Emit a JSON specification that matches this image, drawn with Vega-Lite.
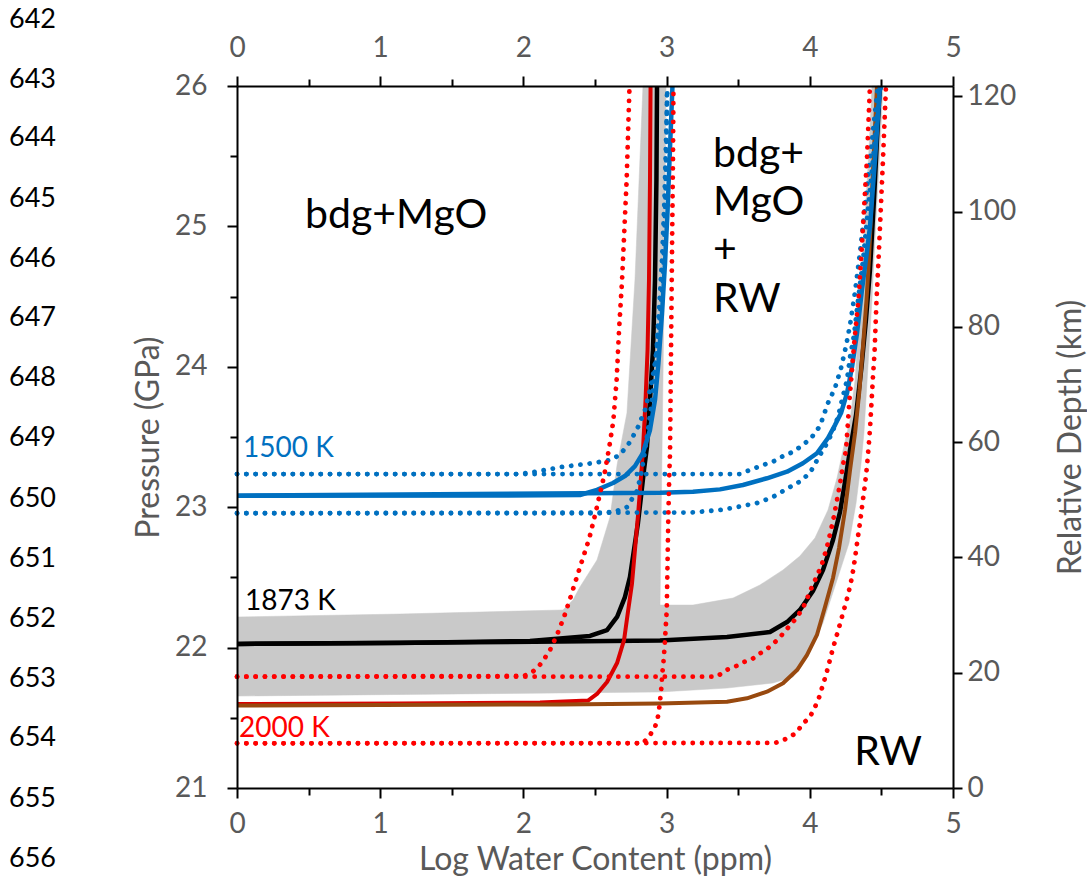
{
  "$schema": "https://vega.github.io/schema/vega-lite/v6.json",
  "width": 716,
  "height": 702,
  "autosize": {"type": "none"},
  "padding": {"left": 237, "top": 86, "right": 134, "bottom": 100},
  "background": "white",
  "config": {"view": {"stroke": null}, "font": "Lato"},
  "datasets": {
    "curves": [
      {"c":"kL","x":0,"p":22.026},{"c":"kL","x":1.138,"p":22.033},{"c":"kL","x":2.046,"p":22.047},{"c":"kL","x":2.465,"p":22.083},{"c":"kL","x":2.584,"p":22.125},{"c":"kL","x":2.654,"p":22.218},{"c":"kL","x":2.709,"p":22.36},{"c":"kL","x":2.744,"p":22.503},{"c":"kL","x":2.772,"p":22.695},{"c":"kL","x":2.8,"p":22.887},{"c":"kL","x":2.821,"p":23.073},{"c":"kL","x":2.842,"p":23.265},{"c":"kL","x":2.863,"p":23.429},{"c":"kL","x":2.884,"p":23.764},{"c":"kL","x":2.905,"p":24.12},{"c":"kL","x":2.919,"p":24.618},{"c":"kL","x":2.929,"p":25.33},{"c":"kL","x":2.933,"p":26.0},
      {"c":"kR","x":0,"p":22.026},{"c":"kR","x":2.256,"p":22.043},{"c":"kR","x":2.954,"p":22.051},{"c":"kR","x":3.422,"p":22.075},{"c":"kR","x":3.722,"p":22.111},{"c":"kR","x":3.841,"p":22.182},{"c":"kR","x":3.931,"p":22.268},{"c":"kR","x":4.022,"p":22.403},{"c":"kR","x":4.092,"p":22.553},{"c":"kR","x":4.162,"p":22.766},{"c":"kR","x":4.211,"p":22.966},{"c":"kR","x":4.246,"p":23.18},{"c":"kR","x":4.281,"p":23.407},{"c":"kR","x":4.323,"p":23.657},{"c":"kR","x":4.361,"p":23.999},{"c":"kR","x":4.392,"p":24.333},{"c":"kR","x":4.42,"p":24.689},{"c":"kR","x":4.448,"p":25.188},{"c":"kR","x":4.469,"p":25.615},{"c":"kR","x":4.49,"p":26.0},
      {"c":"rL","x":0,"p":21.598},{"c":"rL","x":1.138,"p":21.602},{"c":"rL","x":2.116,"p":21.609},{"c":"rL","x":2.451,"p":21.623},{"c":"rL","x":2.514,"p":21.67},{"c":"rL","x":2.584,"p":21.755},{"c":"rL","x":2.654,"p":21.89},{"c":"rL","x":2.703,"p":22.054},{"c":"rL","x":2.73,"p":22.254},{"c":"rL","x":2.758,"p":22.453},{"c":"rL","x":2.779,"p":22.695},{"c":"rL","x":2.8,"p":22.937},{"c":"rL","x":2.818,"p":23.172},{"c":"rL","x":2.835,"p":23.407},{"c":"rL","x":2.853,"p":23.764},{"c":"rL","x":2.867,"p":24.12},{"c":"rL","x":2.877,"p":24.618},{"c":"rL","x":2.884,"p":25.33},{"c":"rL","x":2.888,"p":26.0},
      {"c":"br","x":0,"p":21.588},{"c":"br","x":2.256,"p":21.595},{"c":"br","x":2.954,"p":21.602},{"c":"br","x":3.422,"p":21.615},{"c":"br","x":3.561,"p":21.639},{"c":"br","x":3.701,"p":21.686},{"c":"br","x":3.813,"p":21.746},{"c":"br","x":3.911,"p":21.84},{"c":"br","x":3.98,"p":21.947},{"c":"br","x":4.05,"p":22.09},{"c":"br","x":4.106,"p":22.289},{"c":"br","x":4.162,"p":22.496},{"c":"br","x":4.204,"p":22.709},{"c":"br","x":4.246,"p":22.98},{"c":"br","x":4.281,"p":23.265},{"c":"br","x":4.316,"p":23.528},{"c":"br","x":4.347,"p":23.835},{"c":"br","x":4.372,"p":24.155},{"c":"br","x":4.396,"p":24.476},{"c":"br","x":4.413,"p":24.761},{"c":"br","x":4.434,"p":25.238},{"c":"br","x":4.469,"p":26.0},
      {"c":"bsL","x":0,"p":23.082},{"c":"bsL","x":1.837,"p":23.083},{"c":"bsL","x":2.395,"p":23.087},{"c":"bsL","x":2.514,"p":23.123},{"c":"bsL","x":2.626,"p":23.172},{"c":"bsL","x":2.709,"p":23.222},{"c":"bsL","x":2.779,"p":23.293},{"c":"bsL","x":2.835,"p":23.386},{"c":"bsL","x":2.884,"p":23.55},{"c":"bsL","x":2.919,"p":23.764},{"c":"bsL","x":2.943,"p":24.027},{"c":"bsL","x":2.968,"p":24.383},{"c":"bsL","x":2.989,"p":24.739},{"c":"bsL","x":3.006,"p":25.095},{"c":"bsL","x":3.024,"p":25.565},{"c":"bsL","x":3.041,"p":26.0},
      {"c":"bsR","x":0,"p":23.082},{"c":"bsR","x":2.954,"p":23.103},{"c":"bsR","x":3.184,"p":23.11},{"c":"bsR","x":3.373,"p":23.127},{"c":"bsR","x":3.533,"p":23.158},{"c":"bsR","x":3.701,"p":23.206},{"c":"bsR","x":3.841,"p":23.253},{"c":"bsR","x":3.952,"p":23.313},{"c":"bsR","x":4.05,"p":23.384},{"c":"bsR","x":4.127,"p":23.493},{"c":"bsR","x":4.176,"p":23.585},{"c":"bsR","x":4.218,"p":23.671},{"c":"bsR","x":4.26,"p":23.813},{"c":"bsR","x":4.295,"p":23.999},{"c":"bsR","x":4.33,"p":24.241},{"c":"bsR","x":4.364,"p":24.547},{"c":"bsR","x":4.396,"p":24.796},{"c":"bsR","x":4.42,"p":24.996},{"c":"bsR","x":4.455,"p":25.473},{"c":"bsR","x":4.49,"p":26.0},
      {"c":"buL","x":0,"p":23.236},{"c":"buL","x":1.953,"p":23.236},{"c":"buL","x":2.046,"p":23.246},{"c":"buL","x":2.276,"p":23.288},{"c":"buL","x":2.479,"p":23.313},{"c":"buL","x":2.605,"p":23.336},{"c":"buL","x":2.674,"p":23.372},{"c":"buL","x":2.744,"p":23.464},{"c":"buL","x":2.8,"p":23.571},{"c":"buL","x":2.849,"p":23.692},{"c":"buL","x":2.884,"p":23.835},{"c":"buL","x":2.912,"p":23.977},{"c":"buL","x":2.933,"p":24.141},{"c":"buL","x":2.954,"p":24.383},{"c":"buL","x":2.975,"p":24.618},{"c":"buL","x":2.989,"p":25.095},{"c":"buL","x":2.999,"p":25.565},{"c":"buL","x":3.003,"p":26.0},
      {"c":"buR","x":0,"p":23.236},{"c":"buR","x":3.512,"p":23.236},{"c":"buR","x":3.582,"p":23.265},{"c":"buR","x":3.673,"p":23.301},{"c":"buR","x":3.743,"p":23.324},{"c":"buR","x":3.806,"p":23.36},{"c":"buR","x":3.862,"p":23.384},{"c":"buR","x":3.918,"p":23.419},{"c":"buR","x":3.966,"p":23.455},{"c":"buR","x":4.015,"p":23.5},{"c":"buR","x":4.071,"p":23.578},{"c":"buR","x":4.127,"p":23.742},{"c":"buR","x":4.176,"p":23.849},{"c":"buR","x":4.218,"p":23.991},{"c":"buR","x":4.253,"p":24.148},{"c":"buR","x":4.281,"p":24.298},{"c":"buR","x":4.316,"p":24.533},{"c":"buR","x":4.351,"p":24.818},{"c":"buR","x":4.385,"p":25.131},{"c":"buR","x":4.42,"p":25.473},{"c":"buR","x":4.448,"p":25.744},{"c":"buR","x":4.476,"p":26.0},
      {"c":"bdL","x":0,"p":22.957},{"c":"bdL","x":2.535,"p":22.957},{"c":"bdL","x":2.64,"p":22.969},{"c":"bdL","x":2.723,"p":23.001},{"c":"bdL","x":2.793,"p":23.115},{"c":"bdL","x":2.821,"p":23.229},{"c":"bdL","x":2.842,"p":23.358},{"c":"bdL","x":2.87,"p":23.55},{"c":"bdL","x":2.898,"p":23.764},{"c":"bdL","x":2.926,"p":24.048},{"c":"bdL","x":2.947,"p":24.405},{"c":"bdL","x":2.968,"p":24.761},{"c":"bdL","x":2.985,"p":25.188},{"c":"bdL","x":2.996,"p":25.615},{"c":"bdL","x":3.006,"p":26.0},
      {"c":"bdR","x":0,"p":22.957},{"c":"bdR","x":3.163,"p":22.962},{"c":"bdR","x":3.373,"p":22.98},{"c":"bdR","x":3.492,"p":23.001},{"c":"bdR","x":3.631,"p":23.03},{"c":"bdR","x":3.743,"p":23.073},{"c":"bdR","x":3.855,"p":23.14},{"c":"bdR","x":3.931,"p":23.183},{"c":"bdR","x":4.001,"p":23.244},{"c":"bdR","x":4.071,"p":23.372},{"c":"bdR","x":4.113,"p":23.443},{"c":"bdR","x":4.155,"p":23.528},{"c":"bdR","x":4.197,"p":23.642},{"c":"bdR","x":4.225,"p":23.764},{"c":"bdR","x":4.26,"p":23.906},{"c":"bdR","x":4.281,"p":24.07},{"c":"bdR","x":4.309,"p":24.226},{"c":"bdR","x":4.337,"p":24.476},{"c":"bdR","x":4.372,"p":24.761},{"c":"bdR","x":4.406,"p":25.117},{"c":"bdR","x":4.441,"p":25.473},{"c":"bdR","x":4.469,"p":25.758},{"c":"bdR","x":4.497,"p":26.0},
      {"c":"ruL","x":0,"p":21.793},{"c":"ruL","x":2.004,"p":21.798},{"c":"ruL","x":2.065,"p":21.828},{"c":"ruL","x":2.111,"p":21.871},{"c":"ruL","x":2.151,"p":21.928},{"c":"ruL","x":2.186,"p":21.983},{"c":"ruL","x":2.239,"p":22.102},{"c":"ruL","x":2.286,"p":22.225},{"c":"ruL","x":2.325,"p":22.346},{"c":"ruL","x":2.365,"p":22.476},{"c":"ruL","x":2.402,"p":22.595},{"c":"ruL","x":2.46,"p":22.778},{"c":"ruL","x":2.507,"p":22.973},{"c":"ruL","x":2.535,"p":23.099},{"c":"ruL","x":2.565,"p":23.229},{"c":"ruL","x":2.6,"p":23.431},{"c":"ruL","x":2.628,"p":23.614},{"c":"ruL","x":2.651,"p":23.906},{"c":"ruL","x":2.668,"p":24.262},{"c":"ruL","x":2.689,"p":24.618},{"c":"ruL","x":2.721,"p":25.33},{"c":"ruL","x":2.741,"p":26.0},
      {"c":"ruR","x":0,"p":21.793},{"c":"ruR","x":3.352,"p":21.793},{"c":"ruR","x":3.415,"p":21.84},{"c":"ruR","x":3.478,"p":21.864},{"c":"ruR","x":3.533,"p":21.895},{"c":"ruR","x":3.596,"p":21.917},{"c":"ruR","x":3.645,"p":21.954},{"c":"ruR","x":3.701,"p":21.99},{"c":"ruR","x":3.743,"p":22.026},{"c":"ruR","x":3.785,"p":22.066},{"c":"ruR","x":3.834,"p":22.125},{"c":"ruR","x":3.883,"p":22.182},{"c":"ruR","x":3.925,"p":22.239},{"c":"ruR","x":3.966,"p":22.311},{"c":"ruR","x":4.008,"p":22.417},{"c":"ruR","x":4.05,"p":22.51},{"c":"ruR","x":4.085,"p":22.595},{"c":"ruR","x":4.12,"p":22.717},{"c":"ruR","x":4.148,"p":22.838},{"c":"ruR","x":4.169,"p":22.937},{"c":"ruR","x":4.19,"p":23.051},{"c":"ruR","x":4.211,"p":23.165},{"c":"ruR","x":4.232,"p":23.301},{"c":"ruR","x":4.253,"p":23.407},{"c":"ruR","x":4.277,"p":23.764},{"c":"ruR","x":4.312,"p":24.191},{"c":"ruR","x":4.34,"p":24.476},{"c":"ruR","x":4.358,"p":24.761},{"c":"ruR","x":4.378,"p":25.117},{"c":"ruR","x":4.399,"p":25.473},{"c":"ruR","x":4.42,"p":26.0},
      {"c":"rlL","x":0,"p":21.318},{"c":"rlL","x":2.835,"p":21.318},{"c":"rlL","x":2.884,"p":21.377},{"c":"rlL","x":2.919,"p":21.434},{"c":"rlL","x":2.938,"p":21.499},{"c":"rlL","x":2.947,"p":21.556},{"c":"rlL","x":2.954,"p":21.62},{"c":"rlL","x":2.961,"p":21.684},{"c":"rlL","x":2.966,"p":21.755},{"c":"rlL","x":2.97,"p":21.819},{"c":"rlL","x":2.977,"p":21.883},{"c":"rlL","x":2.982,"p":21.947},{"c":"rlL","x":2.989,"p":22.054},{"c":"rlL","x":2.994,"p":22.147},{"c":"rlL","x":3.001,"p":22.268},{"c":"rlL","x":3.012,"p":22.93},{"c":"rlL","x":3.019,"p":23.244},{"c":"rlL","x":3.024,"p":23.386},{"c":"rlL","x":3.031,"p":24.12},{"c":"rlL","x":3.038,"p":24.832},{"c":"rlL","x":3.045,"p":25.544},{"c":"rlL","x":3.048,"p":26.0},
      {"c":"rlR","x":0,"p":21.318},{"c":"rlR","x":3.757,"p":21.321},{"c":"rlR","x":3.792,"p":21.331},{"c":"rlR","x":3.862,"p":21.363},{"c":"rlR","x":3.911,"p":21.399},{"c":"rlR","x":3.946,"p":21.452},{"c":"rlR","x":4.001,"p":21.506},{"c":"rlR","x":4.057,"p":21.62},{"c":"rlR","x":4.113,"p":21.805},{"c":"rlR","x":4.162,"p":21.997},{"c":"rlR","x":4.197,"p":22.118},{"c":"rlR","x":4.232,"p":22.246},{"c":"rlR","x":4.267,"p":22.375},{"c":"rlR","x":4.295,"p":22.503},{"c":"rlR","x":4.316,"p":22.638},{"c":"rlR","x":4.333,"p":22.766},{"c":"rlR","x":4.351,"p":22.895},{"c":"rlR","x":4.368,"p":23.03},{"c":"rlR","x":4.385,"p":23.158},{"c":"rlR","x":4.399,"p":23.286},{"c":"rlR","x":4.41,"p":23.422},{"c":"rlR","x":4.42,"p":23.55},{"c":"rlR","x":4.441,"p":23.927},{"c":"rlR","x":4.452,"p":24.098},{"c":"rlR","x":4.466,"p":24.476},{"c":"rlR","x":4.48,"p":24.761},{"c":"rlR","x":4.511,"p":25.473},{"c":"rlR","x":4.532,"p":26.0}
    ],
    "band": [
      {"i":1,"x":0,"p":22.218},{"i":2,"x":1.138,"p":22.239},{"i":3,"x":2.276,"p":22.268},{"i":4,"x":2.346,"p":22.339},{"i":5,"x":2.395,"p":22.432},{"i":6,"x":2.514,"p":22.624},{"i":7,"x":2.605,"p":22.93},{"i":8,"x":2.654,"p":23.301},{"i":9,"x":2.723,"p":23.671},{"i":10,"x":2.779,"p":24.618},{"i":11,"x":2.835,"p":26.0},{"i":12,"x":2.996,"p":26.0},{"i":13,"x":2.982,"p":24.476},{"i":14,"x":2.968,"p":23.407},{"i":15,"x":2.954,"p":22.303},{"i":16,"x":3.184,"p":22.303},{"i":17,"x":3.464,"p":22.353},{"i":18,"x":3.652,"p":22.446},{"i":19,"x":3.813,"p":22.553},{"i":20,"x":3.931,"p":22.652},{"i":21,"x":4.036,"p":22.781},{"i":22,"x":4.127,"p":22.98},{"i":23,"x":4.19,"p":23.208},{"i":24,"x":4.232,"p":23.407},{"i":25,"x":4.281,"p":23.621},{"i":26,"x":4.316,"p":23.906},{"i":27,"x":4.351,"p":24.476},{"i":28,"x":4.385,"p":25.046},{"i":29,"x":4.413,"p":25.544},{"i":30,"x":4.434,"p":26.0},{"i":31,"x":4.511,"p":26.0},{"i":32,"x":4.49,"p":25.544},{"i":33,"x":4.462,"p":25.046},{"i":34,"x":4.434,"p":24.476},{"i":35,"x":4.413,"p":24.12},{"i":36,"x":4.378,"p":23.528},{"i":37,"x":4.358,"p":23.315},{"i":38,"x":4.323,"p":23.03},{"i":39,"x":4.274,"p":22.745},{"i":40,"x":4.19,"p":22.481},{"i":41,"x":4.092,"p":22.175},{"i":42,"x":3.98,"p":21.933},{"i":43,"x":3.883,"p":21.791},{"i":44,"x":3.743,"p":21.748},{"i":45,"x":3.422,"p":21.712},{"i":46,"x":2.954,"p":21.684},{"i":47,"x":2.256,"p":21.677},{"i":48,"x":0,"p":21.655}
    ],
    "temps": [
      {"t":"1500 K","x":0.042,"p":23.358},{"t":"1873 K","x":0.056,"p":22.268},{"t":"2000 K","x":0.014,"p":21.363}
    ],
    "regions": [
      {"t":"bdg+MgO","x":0.475,"p":24.989},{"t":"bdg+","x":3.324,"p":25.425},{"t":"MgO","x":3.324,"p":25.081},{"t":"+","x":3.324,"p":24.736},{"t":"RW","x":3.324,"p":24.387},{"t":"RW","x":4.31,"p":21.164}
    ],
    "linenos": [
      {"t":"642","x":-1.592,"p":26.47},{"t":"643","x":-1.592,"p":26.043},{"t":"644","x":-1.592,"p":25.63},{"t":"645","x":-1.592,"p":25.195},{"t":"646","x":-1.592,"p":24.768},{"t":"647","x":-1.592,"p":24.348},{"t":"648","x":-1.592,"p":23.92},{"t":"649","x":-1.592,"p":23.493},{"t":"650","x":-1.592,"p":23.058},{"t":"651","x":-1.592,"p":22.631},{"t":"652","x":-1.592,"p":22.204},{"t":"653","x":-1.592,"p":21.776},{"t":"654","x":-1.592,"p":21.356},{"t":"655","x":-1.592,"p":20.922},{"t":"656","x":-1.592,"p":20.494}
    ]
  },
  "layer": [
    {
      "encoding": {
        "x": {"field": "x", "type": "quantitative", "scale": {"domain": [0, 5], "nice": false, "zero": false},
          "axis": {"orient": "bottom", "values": [0,0.5,1,1.5,2,2.5,3,3.5,4,4.5,5],
            "labelExpr": "datum.value % 1 === 0 ? datum.value + '' : ''",
            "title": "Log Water Content (ppm)", "grid": false,
            "domainColor": "#000000", "domainWidth": 2, "tickColor": "#000000", "tickWidth": 2,
            "tickSize": {"condition": {"test": "datum.value % 1 === 0", "value": 10}, "value": 7},
            "labelFont": "Lato", "labelFontSize": 28, "labelColor": "#595959", "labelPadding": 12,
            "labelOverlap": false, "labelFlush": false,
            "titleFont": "Lato", "titleFontSize": 32, "titleFontWeight": "normal", "titleColor": "#595959", "titlePadding": 6,
            "zindex": 1}},
        "y": {"field": "p", "type": "quantitative", "scale": {"domain": [21, 26], "nice": false, "zero": false},
          "axis": {"orient": "left", "values": [21,21.5,22,22.5,23,23.5,24,24.5,25,25.5,26],
            "labelExpr": "datum.value % 1 === 0 ? datum.value + '' : ''",
            "title": "Pressure (GPa)", "grid": false,
            "domainColor": "#000000", "domainWidth": 2, "tickColor": "#000000", "tickWidth": 2,
            "tickSize": {"condition": {"test": "datum.value % 1 === 0", "value": 10}, "value": 7},
            "labelFont": "Lato", "labelFontSize": 28, "labelColor": "#595959", "labelPadding": 20,
            "labelOverlap": false, "labelFlush": false,
            "titleFont": "Lato", "titleFontSize": 32, "titleFontWeight": "normal", "titleColor": "#595959", "titlePadding": 9,
            "zindex": 1}}
      },
      "layer": [
        {"data": {"name": "band"}, "mark": {"type": "line", "fill": "#C9C9C9", "stroke": "#C9C9C9", "strokeWidth": 0.5}, "encoding": {"order": {"field": "i", "type": "quantitative"}}},
        {"data": {"name": "curves"}, "transform": [{"filter": {"field": "c", "oneOf": ["kL", "kR"]}}], "mark": {"type": "line", "color": "#000000", "strokeWidth": 4.5, "strokeJoin": "round"}, "encoding": {"detail": {"field": "c"}}},
        {"data": {"name": "curves"}, "transform": [{"filter": {"field": "c", "oneOf": ["rL"]}}], "mark": {"type": "line", "color": "#DA0000", "strokeWidth": 4, "strokeJoin": "round"}, "encoding": {"detail": {"field": "c"}}},
        {"data": {"name": "curves"}, "transform": [{"filter": {"field": "c", "oneOf": ["br"]}}], "mark": {"type": "line", "color": "#98490F", "strokeWidth": 4, "strokeJoin": "round"}, "encoding": {"detail": {"field": "c"}}},
        {"data": {"name": "curves"}, "transform": [{"filter": {"field": "c", "oneOf": ["bsL", "bsR"]}}], "mark": {"type": "line", "color": "#0070C0", "strokeWidth": 4.5, "strokeJoin": "round"}, "encoding": {"detail": {"field": "c"}}},
        {"data": {"name": "curves"}, "transform": [{"filter": {"field": "c", "oneOf": ["buL", "buR", "bdL", "bdR"]}}], "mark": {"type": "line", "color": "#0070C0", "strokeWidth": 4.8, "strokeCap": "round", "strokeDash": [0.1, 9.2]}, "encoding": {"detail": {"field": "c"}}},
        {"data": {"name": "curves"}, "transform": [{"filter": {"field": "c", "oneOf": ["ruL", "ruR", "rlL", "rlR"]}}], "mark": {"type": "line", "color": "#FF0000", "strokeWidth": 4.8, "strokeCap": "round", "strokeDash": [0.1, 9.2]}, "encoding": {"detail": {"field": "c"}}},
        {"data": {"name": "temps"}, "mark": {"type": "text", "font": "Lato", "fontSize": 28, "align": "left", "baseline": "alphabetic"},
          "encoding": {"text": {"field": "t"}, "color": {"field": "t", "type": "nominal", "scale": {"domain": ["1500 K", "1873 K", "2000 K"], "range": ["#0070C0", "#000000", "#FF0000"]}, "legend": null}}},
        {"data": {"name": "regions"}, "mark": {"type": "text", "font": "Lato", "fontSize": 41, "align": "left", "baseline": "alphabetic", "color": "#000000"},
          "encoding": {"text": {"field": "t"}}},
        {"data": {"name": "linenos"}, "mark": {"type": "text", "font": "Lato", "fontSize": 27, "align": "left", "baseline": "middle", "color": "#000000"},
          "encoding": {"text": {"field": "t"}}}
      ]
    },
    {
      "data": {"values": [{"xt": 0, "d": 0}, {"xt": 5, "d": 121.8}]},
      "mark": {"type": "point", "opacity": 0},
      "encoding": {
        "x": {"field": "xt", "type": "quantitative", "scale": {"domain": [0, 5], "nice": false, "zero": false},
          "axis": {"orient": "top", "values": [0,0.5,1,1.5,2,2.5,3,3.5,4,4.5,5],
            "labelExpr": "datum.value % 1 === 0 ? datum.value + '' : ''",
            "title": null, "grid": false,
            "domainColor": "#000000", "domainWidth": 2, "tickColor": "#000000", "tickWidth": 2,
            "tickSize": {"condition": {"test": "datum.value % 1 === 0", "value": 10}, "value": 7},
            "labelFont": "Lato", "labelFontSize": 28, "labelColor": "#595959", "labelPadding": 14,
            "labelOverlap": false, "labelFlush": false, "zindex": 1}},
        "y": {"field": "d", "type": "quantitative", "scale": {"domain": [0, 121.8], "nice": false, "zero": false},
          "axis": {"orient": "right", "values": [0,20,40,60,80,100,120],
            "title": "Relative Depth (km)", "titleAngle": 270, "titleBaseline": "top", "grid": false,
            "domainColor": "#000000", "domainWidth": 2, "tickColor": "#000000", "tickWidth": 2, "tickSize": 9,
            "labelFont": "Lato", "labelFontSize": 28, "labelColor": "#595959", "labelPadding": 5,
            "labelOverlap": false, "labelFlush": false,
            "titleFont": "Lato", "titleFontSize": 32, "titleFontWeight": "normal", "titleColor": "#595959", "titlePadding": 40,
            "zindex": 1}}
      }
    }
  ],
  "resolve": {"scale": {"x": "independent", "y": "independent"}}
}
